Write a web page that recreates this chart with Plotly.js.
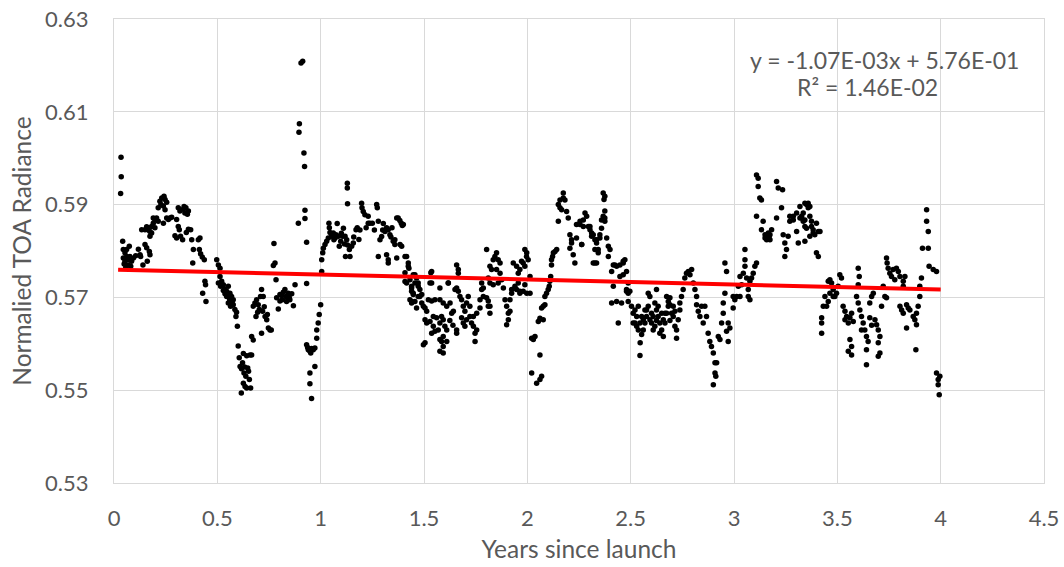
<!DOCTYPE html>
<html>
<head>
<meta charset="utf-8">
<script src="https://cdn.plot.ly/plotly-3.0.1.min.js"></script>
<style>html,body{margin:0;padding:0;background:#fff;}#chart{width:1064px;height:567px;}</style>
</head>
<body>
<div id="chart"></div>
<script>
// Observations: [years since launch, normalized TOA radiance]
const year1 = [
[0.034,0.6002],[0.035,0.5960],[0.032,0.5924],[0.042,0.5821],[0.045,0.5803],[0.053,0.5796],[0.061,0.5788],[0.045,0.5785],[0.053,0.5778],[0.069,0.5781],[0.077,0.5788],[0.085,0.5778],[0.094,0.5785],[0.081,0.5767],[0.069,0.5770],[0.061,0.5803],[0.074,0.5810],[0.049,0.5772],[0.057,0.5765],
[0.118,0.5804],[0.129,0.5788],[0.126,0.5792],[0.161,0.5778],[0.150,0.5814],[0.158,0.5807],[0.171,0.5799],[0.174,0.5792],[0.105,0.5790],[0.140,0.5770],
[0.134,0.5846],[0.150,0.5846],[0.158,0.5852],[0.174,0.5832],[0.182,0.5839],[0.182,0.5853],[0.190,0.5860],[0.198,0.5868],[0.206,0.5871],[0.214,0.5864],[0.198,0.5850],[0.174,0.5842],[0.190,0.5871],[0.166,0.5845],
[0.214,0.5893],[0.222,0.5907],[0.231,0.5914],[0.242,0.5918],[0.247,0.5911],[0.255,0.5905],[0.239,0.5897],[0.247,0.5889],[0.255,0.5871],[0.263,0.5868],[0.271,0.5871],[0.279,0.5873],[0.239,0.5860],[0.227,0.5900],
[0.311,0.5893],[0.319,0.5886],[0.335,0.5890],[0.348,0.5893],[0.360,0.5886],[0.355,0.5879],[0.343,0.5882],[0.339,0.5896],
[0.303,0.5868],[0.311,0.5853],[0.316,0.5846],[0.295,0.5833],[0.303,0.5828],[0.322,0.5832],[0.332,0.5824],[0.360,0.5847],[0.371,0.5846],[0.376,0.5824],[0.416,0.5828],[0.408,0.5824],[0.350,0.5840],
[0.384,0.5803],[0.381,0.5774],[0.413,0.5803],[0.419,0.5794],[0.427,0.5787],[0.437,0.5781],
[0.440,0.5735],[0.443,0.5727],[0.429,0.5709],[0.445,0.5691],
[0.497,0.5781],[0.505,0.5770],[0.513,0.5763],[0.513,0.5745],[0.505,0.5731],[0.516,0.5724],[0.529,0.5727],[0.537,0.5718],[0.545,0.5713],[0.553,0.5724],[0.537,0.5708],[0.545,0.5702],[0.561,0.5709],[0.569,0.5702],[0.577,0.5695],[0.553,0.5688],[0.564,0.5681],[0.577,0.5684],[0.585,0.5674],[0.593,0.5668],[0.590,0.5659],[0.597,0.5638],[0.521,0.5735],[0.529,0.5715],[0.560,0.5695],[0.572,0.5690],
[0.601,0.5595],[0.626,0.5579],[0.642,0.5574],[0.658,0.5576],[0.666,0.5576],[0.610,0.5551],[0.617,0.5546],[0.629,0.5537],[0.638,0.5530],[0.647,0.5548],[0.651,0.5541],[0.655,0.5523],[0.626,0.5515],[0.634,0.5508],[0.616,0.5494],[0.642,0.5505],[0.661,0.5505],[0.622,0.5559],[0.606,0.5570],[0.632,0.5550],
[0.666,0.5616],[0.674,0.5608],
[0.674,0.5681],[0.682,0.5688],[0.690,0.5695],[0.698,0.5684],[0.709,0.5702],[0.714,0.5717],[0.722,0.5702],[0.719,0.5670],[0.731,0.5659],[0.739,0.5652],[0.742,0.5663],[0.747,0.5634],[0.755,0.5630],[0.761,0.5630],[0.714,0.5623],[0.687,0.5659],[0.703,0.5674],[0.695,0.5668],[0.727,0.5680],
[0.774,0.5816],[0.779,0.5774],[0.771,0.5769],[0.784,0.5738],
[0.787,0.5699],[0.795,0.5675],[0.803,0.5692],[0.811,0.5704],[0.819,0.5711],[0.827,0.5717],[0.832,0.5702],[0.843,0.5709],[0.851,0.5695],[0.860,0.5708],[0.868,0.5682],[0.876,0.5727],[0.803,0.5706],[0.835,0.5691],[0.815,0.5695],[0.848,0.5700],
[0.892,0.5860],[0.897,0.6074],[0.895,0.6056],[0.905,0.6205],[0.913,0.6209],[0.919,0.6011],[0.922,0.5982],[0.924,0.5888],[0.924,0.5870],[0.932,0.5819],[0.932,0.5730],
[0.932,0.5598],[0.940,0.5587],[0.948,0.5584],[0.956,0.5590],[0.964,0.5587],[0.972,0.5591],[0.981,0.5612],[0.988,0.5645],[0.993,0.5663],[0.948,0.5537],[0.948,0.5514],[0.956,0.5482],[0.972,0.5551],[0.981,0.5630],[0.937,0.5592],[0.952,0.5580]
];

const year2 = [
[1.000,0.5684],[1.005,0.5756],[1.005,0.5781],[1.010,0.5796],[1.013,0.5806],[1.021,0.5814],[1.029,0.5821],[1.037,0.5828],[1.040,0.5860],[1.042,0.5850],[1.053,0.5832],[1.061,0.5839],[1.064,0.5824],[1.074,0.5835],[1.080,0.5859],[1.085,0.5832],[1.090,0.5810],[1.097,0.5821],[1.106,0.5832],[1.110,0.5849],[1.118,0.5832],[1.126,0.5824],[1.139,0.5803],[1.142,0.5788],[1.150,0.5810],[1.158,0.5817],[1.171,0.5846],[1.177,0.5850],[1.129,0.5946],[1.129,0.5936],[1.130,0.5902],[1.045,0.5840],[1.070,0.5828],[1.100,0.5838],[1.115,0.5815],[1.160,0.5830],[1.120,0.5788],[1.130,0.5813],
[1.198,0.5903],[1.200,0.5893],[1.206,0.5885],[1.214,0.5878],[1.230,0.5875],[1.238,0.5860],[1.230,0.5860],[1.271,0.5900],[1.274,0.5893],[1.279,0.5864],[1.303,0.5859],[1.311,0.5842],[1.295,0.5831],[1.287,0.5824],[1.327,0.5846],[1.335,0.5835],[1.351,0.5821],[1.359,0.5814],[1.375,0.5871],[1.383,0.5866],[1.390,0.5860],[1.395,0.5855],[1.400,0.5857],[1.279,0.5788],[1.319,0.5792],[1.327,0.5774],[1.368,0.5785],[1.392,0.5810],[1.416,0.5788],[1.319,0.5850],[1.327,0.5781],[1.368,0.5871],[1.359,0.5824],[1.384,0.5814],[1.408,0.5788],[1.424,0.5767],[1.190,0.5845],[1.250,0.5860],[1.260,0.5845],[1.340,0.5830],[1.300,0.5845],[1.345,0.5850],[1.185,0.5825],[1.220,0.5850],
[1.424,0.5774],[1.427,0.5763],[1.408,0.5753],[1.408,0.5734],[1.416,0.5731],[1.440,0.5720],[1.456,0.5749],[1.464,0.5742],[1.472,0.5731],[1.448,0.5709],[1.440,0.5691],[1.456,0.5691],[1.480,0.5702],[1.489,0.5688],[1.464,0.5677],[1.432,0.5738],[1.448,0.5749],[1.456,0.5731],[1.440,0.5724],[1.472,0.5724],[1.480,0.5717],[1.440,0.5713],[1.448,0.5706],[1.432,0.5695],[1.472,0.5702],[1.489,0.5706],[1.440,0.5688],[1.505,0.5677],
[1.658,0.5770],[1.666,0.5760],[1.666,0.5752],[1.618,0.5731],[1.577,0.5720],[1.537,0.5756],[1.529,0.5731],[1.533,0.5753],[1.617,0.5731],[1.537,0.5731],
[1.497,0.5681],[1.513,0.5670],[1.521,0.5695],[1.537,0.5692],[1.553,0.5695],[1.577,0.5695],[1.593,0.5688],[1.610,0.5681],[1.626,0.5688],[1.634,0.5666],[1.642,0.5670],[1.650,0.5717],[1.658,0.5720],[1.666,0.5713],[1.674,0.5702],[1.682,0.5695],[1.690,0.5681],[1.698,0.5670],[1.706,0.5688],[1.714,0.5702],[1.722,0.5681],[1.739,0.5659],[1.755,0.5666],[1.771,0.5677],[1.779,0.5717],[1.787,0.5702],[1.811,0.5681],[1.819,0.5666],
[1.505,0.5652],[1.513,0.5645],[1.529,0.5648],[1.545,0.5659],[1.545,0.5638],[1.561,0.5656],[1.577,0.5645],[1.585,0.5659],[1.593,0.5652],[1.601,0.5638],[1.610,0.5630],[1.537,0.5623],[1.553,0.5627],[1.569,0.5630],[1.577,0.5609],[1.593,0.5616],[1.610,0.5605],[1.585,0.5605],[1.593,0.5594],[1.682,0.5656],[1.690,0.5645],[1.698,0.5638],[1.706,0.5652],[1.722,0.5659],[1.730,0.5645],[1.739,0.5638],[1.747,0.5623],[1.747,0.5605],[1.755,0.5630],[1.658,0.5623],[1.497,0.5598],[1.577,0.5584],[1.593,0.5580],[1.505,0.5602],[1.658,0.5630],[1.625,0.5650],[1.640,0.5640],
[1.803,0.5803],[1.819,0.5767],[1.827,0.5760],[1.835,0.5781],[1.843,0.5788],[1.851,0.5796],[1.859,0.5781],[1.868,0.5774],[1.851,0.5760],[1.868,0.5752],[1.811,0.5742],[1.819,0.5731],[1.835,0.5727],[1.859,0.5731],[1.876,0.5738],[1.884,0.5720],[1.779,0.5731],[1.787,0.5720],[1.771,0.5695],[1.803,0.5699],[1.811,0.5692],[1.819,0.5681],[1.892,0.5695],[1.900,0.5681],[1.908,0.5666],[1.908,0.5652],[1.900,0.5641],[1.916,0.5670],
[1.932,0.5774],[1.948,0.5767],[1.956,0.5752],[1.964,0.5760],[1.972,0.5778],[1.980,0.5774],[1.988,0.5767],[1.997,0.5796],[1.988,0.5803],[1.924,0.5717],[1.940,0.5724],[1.956,0.5731],[1.964,0.5709],[1.980,0.5713],[1.997,0.5709],[1.916,0.5695],[1.964,0.5713],[1.988,0.5727],[1.948,0.5717],[1.924,0.5709],[1.996,0.5788]
];

const year3 = [
[2.004,0.5781],[2.013,0.5745],[2.013,0.5709],
[2.021,0.5612],[2.029,0.5612],[2.037,0.5616],[2.061,0.5576],[2.021,0.5537],[2.045,0.5515],[2.061,0.5523],[2.069,0.5530],[2.053,0.5648],[2.061,0.5655],[2.069,0.5677],[2.077,0.5681],[2.085,0.5684],[2.085,0.5702],[2.093,0.5709],[2.101,0.5717],[2.106,0.5724],[2.109,0.5735],[2.113,0.5745],[2.077,0.5652],[2.029,0.5609],
[2.117,0.5770],[2.122,0.5788],[2.126,0.5796],[2.134,0.5799],[2.142,0.5803],[2.117,0.5781],
[2.174,0.5925],[2.174,0.5914],[2.158,0.5910],[2.150,0.5900],[2.158,0.5893],[2.166,0.5889],[2.190,0.5885],[2.198,0.5871],[2.150,0.5864],[2.182,0.5910],
[2.206,0.5835],[2.214,0.5824],[2.206,0.5806],[2.222,0.5792],[2.230,0.5774],[2.238,0.5828],[2.263,0.5814],[2.214,0.5817],
[2.255,0.5864],[2.255,0.5857],[2.271,0.5853],[2.279,0.5882],[2.287,0.5875],[2.295,0.5853],[2.303,0.5846],[2.311,0.5839],[2.319,0.5835],[2.327,0.5824],[2.335,0.5817],[2.343,0.5803],[2.351,0.5835],[2.238,0.5857],[2.303,0.5853],[2.271,0.5867],[2.311,0.5832],[2.335,0.5824],[2.351,0.5828],[2.327,0.5803],[2.343,0.5796],[2.263,0.5814],
[2.367,0.5925],[2.371,0.5911],[2.375,0.5886],[2.367,0.5875],[2.359,0.5867],[2.359,0.5849],[2.375,0.5864],[2.375,0.5918],[2.375,0.5871],
[2.319,0.5774],[2.335,0.5774],[2.392,0.5810],[2.392,0.5788],[2.400,0.5803],[2.384,0.5828],[2.327,0.5774],
[2.416,0.5770],[2.432,0.5767],[2.448,0.5770],[2.464,0.5774],[2.472,0.5781],[2.480,0.5756],[2.408,0.5756],[2.448,0.5745],[2.416,0.5724],[2.408,0.5688],[2.432,0.5691],[2.456,0.5688],[2.488,0.5691],[2.440,0.5645],[2.480,0.5717],[2.496,0.5713],[2.488,0.5709],[2.464,0.5749],[2.488,0.5731],[2.480,0.5713],[2.424,0.5770],[2.464,0.5778],
[2.504,0.5681],[2.512,0.5666],[2.521,0.5673],[2.529,0.5659],[2.537,0.5681],[2.512,0.5645],[2.529,0.5638],[2.537,0.5630],[2.545,0.5645],[2.553,0.5659],[2.561,0.5630],[2.569,0.5673],[2.577,0.5659],[2.585,0.5709],[2.593,0.5702],[2.585,0.5681],[2.593,0.5652],[2.601,0.5666],[2.609,0.5659],[2.617,0.5688],[2.625,0.5717],[2.625,0.5673],[2.633,0.5659],[2.641,0.5645],[2.650,0.5630],[2.658,0.5616],[2.666,0.5666],[2.674,0.5702],[2.682,0.5691],[2.690,0.5684],[2.698,0.5666],[2.706,0.5659],[2.714,0.5638],[2.722,0.5630],[2.722,0.5612],[2.730,0.5652],[2.738,0.5673],[2.738,0.5688],[2.546,0.5602],[2.545,0.5575],[2.561,0.5652],[2.601,0.5645],[2.617,0.5638],[2.641,0.5623],[2.658,0.5652],[2.674,0.5666],[2.682,0.5681],[2.690,0.5699],[2.577,0.5673],[2.633,0.5681],[2.650,0.5666],[2.666,0.5645],[2.706,0.5681],[2.521,0.5645],[2.553,0.5620],[2.569,0.5645],[2.609,0.5630],[2.625,0.5650],[2.690,0.5650],[2.714,0.5670],
[2.746,0.5702],[2.754,0.5717],[2.762,0.5742],[2.770,0.5752],[2.779,0.5756],[2.795,0.5760],[2.787,0.5749],
[2.803,0.5731],[2.811,0.5717],[2.819,0.5702],[2.819,0.5684],[2.827,0.5670],[2.843,0.5681],[2.835,0.5659],[2.851,0.5645],[2.859,0.5681],[2.867,0.5659],[2.875,0.5623],[2.883,0.5605],[2.891,0.5594],[2.900,0.5580],[2.908,0.5559],[2.916,0.5559],[2.908,0.5537],[2.900,0.5512],[2.912,0.5530],
[2.924,0.5616],[2.932,0.5609],[2.940,0.5645],[2.948,0.5666],[2.948,0.5688],[2.964,0.5627],[2.972,0.5645],[2.980,0.5634],[2.972,0.5605],[2.956,0.5709],[2.964,0.5756],[2.956,0.5774],[2.996,0.5702],[2.996,0.5677]
];

const year4 = [
[3.013,0.5702],[3.029,0.5702],[3.004,0.5695],[3.021,0.5724],[3.029,0.5745],[3.045,0.5752],[3.053,0.5767],[3.053,0.5781],[3.053,0.5803],[3.069,0.5702],[3.077,0.5695],[3.069,0.5717],[3.077,0.5735],[3.085,0.5742],[3.093,0.5752],[3.101,0.5767],[3.109,0.5774],[3.061,0.5742],[3.037,0.5727],
[3.109,0.5964],[3.117,0.5957],[3.117,0.5939],[3.125,0.5914],[3.133,0.5910],[3.109,0.5875],[3.141,0.5864],[3.133,0.5846],[3.150,0.5835],[3.158,0.5832],[3.166,0.5828],[3.174,0.5835],[3.182,0.5846],[3.158,0.5824],[3.174,0.5824],[3.166,0.5839],[3.150,0.5828],[3.162,0.5832],[3.170,0.5830],
[3.206,0.5950],[3.214,0.5936],[3.235,0.5932],[3.206,0.5871],[3.230,0.5893],[3.238,0.5835],[3.246,0.5817],[3.254,0.5803],[3.246,0.5788],[3.262,0.5832],[3.270,0.5875],[3.287,0.5867],[3.303,0.5882],[3.319,0.5896],[3.327,0.5875],[3.335,0.5864],[3.351,0.5900],[3.359,0.5893],[3.367,0.5875],[3.351,0.5849],[3.367,0.5832],[3.383,0.5839],[3.399,0.5860],[3.408,0.5842],[3.416,0.5842],[3.399,0.5796],[3.408,0.5788],[3.303,0.5842],[3.311,0.5817],[3.343,0.5821],[3.287,0.5875],[3.319,0.5871],[3.335,0.5882],[3.270,0.5864],[3.343,0.5853],[3.375,0.5853],[3.383,0.5846],
[3.343,0.5903],[3.359,0.5903],[3.367,0.5896],[3.327,0.5871],[3.343,0.5867],[3.375,0.5864],[3.391,0.5835],
[3.424,0.5656],[3.424,0.5645],[3.424,0.5623],
[3.440,0.5702],[3.448,0.5681],[3.456,0.5691],[3.464,0.5738],[3.472,0.5731],[3.480,0.5717],[3.488,0.5702],[3.496,0.5709],[3.504,0.5724],[3.512,0.5749],[3.520,0.5742],[3.456,0.5735],[3.432,0.5681],[3.464,0.5709],[3.480,0.5702],
[3.528,0.5681],[3.537,0.5670],[3.545,0.5659],[3.553,0.5645],[3.561,0.5656],[3.569,0.5666],[3.577,0.5648],[3.561,0.5609],[3.569,0.5594],[3.553,0.5584],[3.569,0.5576],[3.537,0.5652],
[3.601,0.5763],[3.606,0.5745],[3.601,0.5727],[3.593,0.5702],[3.601,0.5688],[3.609,0.5673],[3.617,0.5659],[3.625,0.5645],[3.633,0.5630],[3.641,0.5616],[3.649,0.5605],[3.641,0.5587],[3.641,0.5555],[3.657,0.5688],[3.666,0.5702],[3.674,0.5709],[3.657,0.5656],[3.682,0.5652],[3.690,0.5641],[3.698,0.5630],[3.706,0.5616],[3.698,0.5602],[3.706,0.5580],[3.698,0.5573],[3.617,0.5630],[3.666,0.5640],
[3.738,0.5785],[3.741,0.5774],[3.746,0.5763],[3.754,0.5752],[3.762,0.5745],[3.770,0.5760],[3.786,0.5763],[3.795,0.5756],[3.778,0.5738],[3.803,0.5745],[3.819,0.5735],[3.819,0.5724],[3.827,0.5745],[3.722,0.5724],[3.730,0.5702],[3.738,0.5699],[3.714,0.5681],
[3.803,0.5681],[3.811,0.5673],[3.819,0.5666],[3.835,0.5684],[3.843,0.5677],[3.851,0.5673],[3.835,0.5634],[3.867,0.5659],[3.875,0.5652],[3.883,0.5641],[3.883,0.5666],[3.891,0.5681],[3.899,0.5702],[3.899,0.5724],[3.907,0.5742],[3.880,0.5587],
[3.932,0.5889],[3.932,0.5864],[3.940,0.5842],[3.912,0.5806],[3.940,0.5806],[3.944,0.5767],[3.964,0.5760],[3.980,0.5756],
[3.980,0.5537],[3.988,0.5523],[3.996,0.5530],[3.988,0.5512],[3.993,0.5490]
];

// Linear trend reported on the chart
const trendSlope = -1.07e-3;
const trendIntercept = 0.576;
const trendRange = [0.02, 4.0];
const equationText = "y = -1.07E-03x + 5.76E-01";
const r2Text = "R² = 1.46E-02";

const xTitle = "Years since launch";
const yTitle = "Normalied TOA Radiance";

const allPts = year1.concat(year2, year3, year4);
const FONT = "Lato, 'Open Sans', sans-serif";
const GREY = "#595959";

const traces = [
  {
    type: "scatter", mode: "markers",
    x: allPts.map(p => p[0]), y: allPts.map(p => p[1]),
    marker: {color: "#000000", size: 5.5},
    hoverinfo: "skip", showlegend: false
  },
  {
    type: "scatter", mode: "lines",
    x: trendRange,
    y: trendRange.map(v => trendSlope * v + trendIntercept),
    line: {color: "#ff0000", width: 4},
    hoverinfo: "skip", showlegend: false
  }
];

const layout = {
  width: 1064, height: 567,
  margin: {l: 114, r: 20, t: 19, b: 84},
  paper_bgcolor: "#ffffff", plot_bgcolor: "#ffffff",
  font: {family: FONT, color: GREY, size: 22},
  xaxis: {
    range: [0, 4.5], dtick: 0.5, tick0: 0,
    showgrid: true, gridcolor: "#d9d9d9", gridwidth: 1,
    zeroline: false, showline: true, mirror: true, linecolor: "#d9d9d9", linewidth: 1,
    ticks: "", ticklabelstandoff: 16,
    tickfont: {family: FONT, size: 22, color: GREY},
    title: {text: xTitle, font: {family: FONT, size: 24.5, color: GREY}, standoff: 10}
  },
  yaxis: {
    range: [0.53, 0.63], dtick: 0.02, tick0: 0.53, tickformat: ".2f",
    showgrid: true, gridcolor: "#d9d9d9", gridwidth: 1,
    zeroline: false, showline: true, mirror: true, linecolor: "#d9d9d9", linewidth: 1,
    ticks: "", ticklabelstandoff: 20,
    tickfont: {family: FONT, size: 22, color: GREY},
    title: {text: yTitle, font: {family: FONT, size: 24.5, color: GREY}, standoff: 6}
  },
  annotations: [
    {x: 3.73, y: 0.6212, xref: "x", yref: "y", text: equationText, showarrow: false,
     xanchor: "center", yanchor: "middle", font: {family: FONT, size: 23, color: GREY}},
    {x: 3.648, y: 0.6154, xref: "x", yref: "y", text: r2Text, showarrow: false,
     xanchor: "center", yanchor: "middle", font: {family: FONT, size: 23, color: GREY}}
  ]
};

Plotly.newPlot("chart", traces, layout, {staticPlot: true, displayModeBar: false});
</script>
</body>
</html>
